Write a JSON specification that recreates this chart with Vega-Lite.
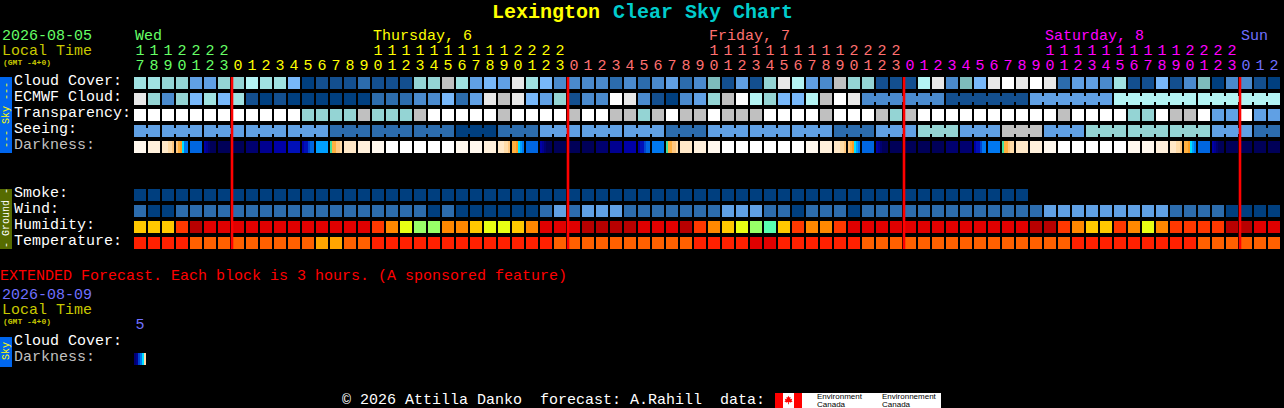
{"$schema":"https://vega.github.io/schema/vega-lite/v6.json","width":1284,"height":408,"autosize":"none","padding":0,"background":"#000000","config":{"view":{"stroke":null},"text":{"font":"Liberation Mono","fontSize":15,"baseline":"middle","align":"left"}},
"datasets":{"cells":[
{"row":"cloud","col":0,"lvl":"s6"},{"row":"cloud","col":1,"lvl":"s6"},{"row":"cloud","col":2,"lvl":"s8"},{"row":"cloud","col":3,"lvl":"s8"},{"row":"cloud","col":4,"lvl":"s4"},{"row":"cloud","col":5,"lvl":"s4"},{"row":"cloud","col":6,"lvl":"s8"},{"row":"cloud","col":7,"lvl":"s8"},{"row":"cloud","col":8,"lvl":"s7"},{"row":"cloud","col":9,"lvl":"s6"},{"row":"cloud","col":10,"lvl":"s6"},{"row":"cloud","col":11,"lvl":"s5"},{"row":"cloud","col":12,"lvl":"s0"},{"row":"cloud","col":13,"lvl":"s1"},{"row":"cloud","col":14,"lvl":"s1"},{"row":"cloud","col":15,"lvl":"s1"},{"row":"cloud","col":16,"lvl":"s2"},{"row":"cloud","col":17,"lvl":"s1"},{"row":"cloud","col":18,"lvl":"s1"},{"row":"cloud","col":19,"lvl":"s1"},{"row":"cloud","col":20,"lvl":"s8"},{"row":"cloud","col":21,"lvl":"s8"},{"row":"cloud","col":22,"lvl":"s10"},{"row":"cloud","col":23,"lvl":"s6"},{"row":"cloud","col":24,"lvl":"s4"},{"row":"cloud","col":25,"lvl":"s5"},{"row":"cloud","col":26,"lvl":"s4"},{"row":"cloud","col":27,"lvl":"s11"},{"row":"cloud","col":28,"lvl":"s6"},{"row":"cloud","col":29,"lvl":"s5"},{"row":"cloud","col":30,"lvl":"s3"},{"row":"cloud","col":31,"lvl":"s3"},{"row":"cloud","col":32,"lvl":"s3"},{"row":"cloud","col":33,"lvl":"s3"},{"row":"cloud","col":34,"lvl":"s2"},{"row":"cloud","col":35,"lvl":"s3"},{"row":"cloud","col":36,"lvl":"s2"},{"row":"cloud","col":37,"lvl":"s3"},{"row":"cloud","col":38,"lvl":"s4"},{"row":"cloud","col":39,"lvl":"s2"},{"row":"cloud","col":40,"lvl":"s3"},{"row":"cloud","col":41,"lvl":"s9"},{"row":"cloud","col":42,"lvl":"s1"},{"row":"cloud","col":43,"lvl":"s4"},{"row":"cloud","col":44,"lvl":"s1"},{"row":"cloud","col":45,"lvl":"s8"},{"row":"cloud","col":46,"lvl":"s11"},{"row":"cloud","col":47,"lvl":"s7"},{"row":"cloud","col":48,"lvl":"s4"},{"row":"cloud","col":49,"lvl":"s3"},{"row":"cloud","col":50,"lvl":"s10"},{"row":"cloud","col":51,"lvl":"s8"},{"row":"cloud","col":52,"lvl":"s8"},{"row":"cloud","col":53,"lvl":"s1"},{"row":"cloud","col":54,"lvl":"s1"},{"row":"cloud","col":55,"lvl":"s1"},{"row":"cloud","col":56,"lvl":"s7"},{"row":"cloud","col":57,"lvl":"s11"},{"row":"cloud","col":58,"lvl":"s3"},{"row":"cloud","col":59,"lvl":"s9"},{"row":"cloud","col":60,"lvl":"s5"},{"row":"cloud","col":61,"lvl":"s11"},{"row":"cloud","col":62,"lvl":"s12"},{"row":"cloud","col":63,"lvl":"s11"},{"row":"cloud","col":64,"lvl":"s12"},{"row":"cloud","col":65,"lvl":"s11"},{"row":"cloud","col":66,"lvl":"s2"},{"row":"cloud","col":67,"lvl":"s4"},{"row":"cloud","col":68,"lvl":"s4"},{"row":"cloud","col":69,"lvl":"s3"},{"row":"cloud","col":70,"lvl":"s6"},{"row":"cloud","col":71,"lvl":"s1"},{"row":"cloud","col":72,"lvl":"s1"},{"row":"cloud","col":73,"lvl":"s5"},{"row":"cloud","col":74,"lvl":"s1"},{"row":"cloud","col":75,"lvl":"s3"},{"row":"cloud","col":76,"lvl":"s9"},{"row":"cloud","col":77,"lvl":"s0"},{"row":"cloud","col":78,"lvl":"s3"},{"row":"cloud","col":79,"lvl":"s3"},{"row":"cloud","col":80,"lvl":"s1"},{"row":"cloud","col":81,"lvl":"s0"},
{"row":"ecmwf","col":0,"lvl":"s11"},{"row":"ecmwf","col":1,"lvl":"s8"},{"row":"ecmwf","col":2,"lvl":"s3"},{"row":"ecmwf","col":3,"lvl":"s8"},{"row":"ecmwf","col":4,"lvl":"s5"},{"row":"ecmwf","col":5,"lvl":"s6"},{"row":"ecmwf","col":6,"lvl":"s5"},{"row":"ecmwf","col":7,"lvl":"s6"},{"row":"ecmwf","col":8,"lvl":"s1"},{"row":"ecmwf","col":9,"lvl":"s0"},{"row":"ecmwf","col":10,"lvl":"s1"},{"row":"ecmwf","col":11,"lvl":"s0"},{"row":"ecmwf","col":12,"lvl":"s0"},{"row":"ecmwf","col":13,"lvl":"s0"},{"row":"ecmwf","col":14,"lvl":"s0"},{"row":"ecmwf","col":15,"lvl":"s0"},{"row":"ecmwf","col":16,"lvl":"s0"},{"row":"ecmwf","col":17,"lvl":"s2"},{"row":"ecmwf","col":18,"lvl":"s2"},{"row":"ecmwf","col":19,"lvl":"s2"},{"row":"ecmwf","col":20,"lvl":"s3"},{"row":"ecmwf","col":21,"lvl":"s3"},{"row":"ecmwf","col":22,"lvl":"s5"},{"row":"ecmwf","col":23,"lvl":"s2"},{"row":"ecmwf","col":24,"lvl":"s4"},{"row":"ecmwf","col":25,"lvl":"s11"},{"row":"ecmwf","col":26,"lvl":"s10"},{"row":"ecmwf","col":27,"lvl":"s11"},{"row":"ecmwf","col":28,"lvl":"s5"},{"row":"ecmwf","col":29,"lvl":"s4"},{"row":"ecmwf","col":30,"lvl":"s8"},{"row":"ecmwf","col":31,"lvl":"s1"},{"row":"ecmwf","col":32,"lvl":"s3"},{"row":"ecmwf","col":33,"lvl":"s3"},{"row":"ecmwf","col":34,"lvl":"s12"},{"row":"ecmwf","col":35,"lvl":"s11"},{"row":"ecmwf","col":36,"lvl":"s3"},{"row":"ecmwf","col":37,"lvl":"s1"},{"row":"ecmwf","col":38,"lvl":"s0"},{"row":"ecmwf","col":39,"lvl":"s3"},{"row":"ecmwf","col":40,"lvl":"s4"},{"row":"ecmwf","col":41,"lvl":"s8"},{"row":"ecmwf","col":42,"lvl":"s10"},{"row":"ecmwf","col":43,"lvl":"s12"},{"row":"ecmwf","col":44,"lvl":"s7"},{"row":"ecmwf","col":45,"lvl":"s8"},{"row":"ecmwf","col":46,"lvl":"s5"},{"row":"ecmwf","col":47,"lvl":"s5"},{"row":"ecmwf","col":48,"lvl":"s7"},{"row":"ecmwf","col":49,"lvl":"s10"},{"row":"ecmwf","col":50,"lvl":"s12"},{"row":"ecmwf","col":51,"lvl":"s11"},{"row":"ecmwf","col":52,"lvl":"s3","link":1},{"row":"ecmwf","col":53,"lvl":"s3","link":1},{"row":"ecmwf","col":54,"lvl":"s3","link":1},{"row":"ecmwf","col":55,"lvl":"s3","link":1},{"row":"ecmwf","col":56,"lvl":"s3","link":1},{"row":"ecmwf","col":57,"lvl":"s3"},{"row":"ecmwf","col":58,"lvl":"s1","link":1},{"row":"ecmwf","col":59,"lvl":"s1","link":1},{"row":"ecmwf","col":60,"lvl":"s1","link":1},{"row":"ecmwf","col":61,"lvl":"s1","link":1},{"row":"ecmwf","col":62,"lvl":"s1","link":1},{"row":"ecmwf","col":63,"lvl":"s1"},{"row":"ecmwf","col":64,"lvl":"s4","link":1},{"row":"ecmwf","col":65,"lvl":"s4","link":1},{"row":"ecmwf","col":66,"lvl":"s4","link":1},{"row":"ecmwf","col":67,"lvl":"s4","link":1},{"row":"ecmwf","col":68,"lvl":"s4","link":1},{"row":"ecmwf","col":69,"lvl":"s4"},{"row":"ecmwf","col":70,"lvl":"s7","link":1},{"row":"ecmwf","col":71,"lvl":"s7","link":1},{"row":"ecmwf","col":72,"lvl":"s7","link":1},{"row":"ecmwf","col":73,"lvl":"s7","link":1},{"row":"ecmwf","col":74,"lvl":"s7","link":1},{"row":"ecmwf","col":75,"lvl":"s7"},{"row":"ecmwf","col":76,"lvl":"s7","link":1},{"row":"ecmwf","col":77,"lvl":"s7","link":1},{"row":"ecmwf","col":78,"lvl":"s7","link":1},{"row":"ecmwf","col":79,"lvl":"s7","link":1},{"row":"ecmwf","col":80,"lvl":"s7","link":1},{"row":"ecmwf","col":81,"lvl":"s7"},
{"row":"transp","col":0,"lvl":"s12"},{"row":"transp","col":1,"lvl":"s12"},{"row":"transp","col":2,"lvl":"s12"},{"row":"transp","col":3,"lvl":"s12"},{"row":"transp","col":4,"lvl":"s12"},{"row":"transp","col":5,"lvl":"s12"},{"row":"transp","col":6,"lvl":"s12"},{"row":"transp","col":7,"lvl":"s12"},{"row":"transp","col":8,"lvl":"s12"},{"row":"transp","col":9,"lvl":"s12"},{"row":"transp","col":10,"lvl":"s12"},{"row":"transp","col":11,"lvl":"s12"},{"row":"transp","col":12,"lvl":"s8"},{"row":"transp","col":13,"lvl":"s8"},{"row":"transp","col":14,"lvl":"s8"},{"row":"transp","col":15,"lvl":"s8"},{"row":"transp","col":16,"lvl":"s10"},{"row":"transp","col":17,"lvl":"s8"},{"row":"transp","col":18,"lvl":"s8"},{"row":"transp","col":19,"lvl":"s8"},{"row":"transp","col":20,"lvl":"s10"},{"row":"transp","col":21,"lvl":"s12"},{"row":"transp","col":22,"lvl":"s12"},{"row":"transp","col":23,"lvl":"s12"},{"row":"transp","col":24,"lvl":"s12"},{"row":"transp","col":25,"lvl":"s12"},{"row":"transp","col":26,"lvl":"s10"},{"row":"transp","col":27,"lvl":"s12"},{"row":"transp","col":28,"lvl":"s12"},{"row":"transp","col":29,"lvl":"s12"},{"row":"transp","col":30,"lvl":"s12"},{"row":"transp","col":31,"lvl":"s10"},{"row":"transp","col":32,"lvl":"s12"},{"row":"transp","col":33,"lvl":"s12"},{"row":"transp","col":34,"lvl":"s10"},{"row":"transp","col":35,"lvl":"s10"},{"row":"transp","col":36,"lvl":"s8"},{"row":"transp","col":37,"lvl":"s10"},{"row":"transp","col":38,"lvl":"s12"},{"row":"transp","col":39,"lvl":"s10"},{"row":"transp","col":40,"lvl":"s10"},{"row":"transp","col":41,"lvl":"s12"},{"row":"transp","col":42,"lvl":"s10"},{"row":"transp","col":43,"lvl":"s10"},{"row":"transp","col":44,"lvl":"s10"},{"row":"transp","col":45,"lvl":"s12"},{"row":"transp","col":46,"lvl":"s12"},{"row":"transp","col":47,"lvl":"s12"},{"row":"transp","col":48,"lvl":"s12"},{"row":"transp","col":49,"lvl":"s10"},{"row":"transp","col":50,"lvl":"s12"},{"row":"transp","col":51,"lvl":"s12"},{"row":"transp","col":52,"lvl":"s12"},{"row":"transp","col":53,"lvl":"s10"},{"row":"transp","col":54,"lvl":"s8"},{"row":"transp","col":55,"lvl":"s10"},{"row":"transp","col":56,"lvl":"s12"},{"row":"transp","col":57,"lvl":"s12"},{"row":"transp","col":58,"lvl":"s12"},{"row":"transp","col":59,"lvl":"s12"},{"row":"transp","col":60,"lvl":"s12"},{"row":"transp","col":61,"lvl":"s12"},{"row":"transp","col":62,"lvl":"s12"},{"row":"transp","col":63,"lvl":"s12"},{"row":"transp","col":64,"lvl":"s12"},{"row":"transp","col":65,"lvl":"s12"},{"row":"transp","col":66,"lvl":"s10"},{"row":"transp","col":67,"lvl":"s12"},{"row":"transp","col":68,"lvl":"s12"},{"row":"transp","col":69,"lvl":"s12"},{"row":"transp","col":70,"lvl":"s12"},{"row":"transp","col":71,"lvl":"s8"},{"row":"transp","col":72,"lvl":"s8"},{"row":"transp","col":73,"lvl":"s12"},{"row":"transp","col":74,"lvl":"s10"},{"row":"transp","col":75,"lvl":"s10"},{"row":"transp","col":76,"lvl":"s12"},{"row":"transp","col":77,"lvl":"s4"},{"row":"transp","col":78,"lvl":"s4"},{"row":"transp","col":79,"lvl":"s12"},{"row":"transp","col":80,"lvl":"s4"},{"row":"transp","col":81,"lvl":"s4"},
{"row":"seeing","col":0,"lvl":"s4","link":1},{"row":"seeing","col":1,"lvl":"s4"},{"row":"seeing","col":2,"lvl":"s4","link":1},{"row":"seeing","col":3,"lvl":"s4","link":1},{"row":"seeing","col":4,"lvl":"s4"},{"row":"seeing","col":5,"lvl":"s4","link":1},{"row":"seeing","col":6,"lvl":"s4","link":1},{"row":"seeing","col":7,"lvl":"s4"},{"row":"seeing","col":8,"lvl":"s4","link":1},{"row":"seeing","col":9,"lvl":"s4","link":1},{"row":"seeing","col":10,"lvl":"s4"},{"row":"seeing","col":11,"lvl":"s4","link":1},{"row":"seeing","col":12,"lvl":"s4","link":1},{"row":"seeing","col":13,"lvl":"s4"},{"row":"seeing","col":14,"lvl":"s2","link":1},{"row":"seeing","col":15,"lvl":"s2","link":1},{"row":"seeing","col":16,"lvl":"s2"},{"row":"seeing","col":17,"lvl":"s2","link":1},{"row":"seeing","col":18,"lvl":"s2","link":1},{"row":"seeing","col":19,"lvl":"s2"},{"row":"seeing","col":20,"lvl":"s2","link":1},{"row":"seeing","col":21,"lvl":"s2","link":1},{"row":"seeing","col":22,"lvl":"s2"},{"row":"seeing","col":23,"lvl":"s0","link":1},{"row":"seeing","col":24,"lvl":"s0","link":1},{"row":"seeing","col":25,"lvl":"s0"},{"row":"seeing","col":26,"lvl":"s2","link":1},{"row":"seeing","col":27,"lvl":"s2","link":1},{"row":"seeing","col":28,"lvl":"s2"},{"row":"seeing","col":29,"lvl":"s4","link":1},{"row":"seeing","col":30,"lvl":"s4","link":1},{"row":"seeing","col":31,"lvl":"s4"},{"row":"seeing","col":32,"lvl":"s4","link":1},{"row":"seeing","col":33,"lvl":"s4","link":1},{"row":"seeing","col":34,"lvl":"s4"},{"row":"seeing","col":35,"lvl":"s4","link":1},{"row":"seeing","col":36,"lvl":"s4","link":1},{"row":"seeing","col":37,"lvl":"s4"},{"row":"seeing","col":38,"lvl":"s2","link":1},{"row":"seeing","col":39,"lvl":"s2","link":1},{"row":"seeing","col":40,"lvl":"s2"},{"row":"seeing","col":41,"lvl":"s4","link":1},{"row":"seeing","col":42,"lvl":"s4","link":1},{"row":"seeing","col":43,"lvl":"s4"},{"row":"seeing","col":44,"lvl":"s4","link":1},{"row":"seeing","col":45,"lvl":"s4","link":1},{"row":"seeing","col":46,"lvl":"s4"},{"row":"seeing","col":47,"lvl":"s4","link":1},{"row":"seeing","col":48,"lvl":"s4","link":1},{"row":"seeing","col":49,"lvl":"s4"},{"row":"seeing","col":50,"lvl":"s2","link":1},{"row":"seeing","col":51,"lvl":"s2","link":1},{"row":"seeing","col":52,"lvl":"s2"},{"row":"seeing","col":53,"lvl":"s4","link":1},{"row":"seeing","col":54,"lvl":"s4","link":1},{"row":"seeing","col":55,"lvl":"s4"},{"row":"seeing","col":56,"lvl":"s8","link":1},{"row":"seeing","col":57,"lvl":"s8","link":1},{"row":"seeing","col":58,"lvl":"s8"},{"row":"seeing","col":59,"lvl":"s4","link":1},{"row":"seeing","col":60,"lvl":"s4","link":1},{"row":"seeing","col":61,"lvl":"s4"},{"row":"seeing","col":62,"lvl":"s10","link":1},{"row":"seeing","col":63,"lvl":"s10","link":1},{"row":"seeing","col":64,"lvl":"s10"},{"row":"seeing","col":65,"lvl":"s4","link":1},{"row":"seeing","col":66,"lvl":"s4","link":1},{"row":"seeing","col":67,"lvl":"s4"},{"row":"seeing","col":68,"lvl":"s8","link":1},{"row":"seeing","col":69,"lvl":"s8","link":1},{"row":"seeing","col":70,"lvl":"s8"},{"row":"seeing","col":71,"lvl":"s8","link":1},{"row":"seeing","col":72,"lvl":"s8","link":1},{"row":"seeing","col":73,"lvl":"s8"},{"row":"seeing","col":74,"lvl":"s8","link":1},{"row":"seeing","col":75,"lvl":"s8","link":1},{"row":"seeing","col":76,"lvl":"s8"},{"row":"seeing","col":77,"lvl":"s4","link":1},{"row":"seeing","col":78,"lvl":"s4","link":1},{"row":"seeing","col":79,"lvl":"s4"},{"row":"seeing","col":80,"lvl":"s2","link":1},{"row":"seeing","col":81,"lvl":"s2"},
{"row":"dark","col":0,"lvl":"c1"},{"row":"dark","col":1,"lvl":"c2"},{"row":"dark","col":4,"lvl":"b3"},{"row":"dark","col":6,"lvl":"b9"},{"row":"dark","col":7,"lvl":"b9"},{"row":"dark","col":8,"lvl":"b8"},{"row":"dark","col":9,"lvl":"b7"},{"row":"dark","col":10,"lvl":"b6"},{"row":"dark","col":11,"lvl":"b5"},{"row":"dark","col":13,"lvl":"b1"},{"row":"dark","col":15,"lvl":"c3"},{"row":"dark","col":16,"lvl":"c2"},{"row":"dark","col":17,"lvl":"c1"},{"row":"dark","col":18,"lvl":"w"},{"row":"dark","col":19,"lvl":"w"},{"row":"dark","col":20,"lvl":"w"},{"row":"dark","col":21,"lvl":"w"},{"row":"dark","col":22,"lvl":"w"},{"row":"dark","col":23,"lvl":"c1"},{"row":"dark","col":24,"lvl":"c1"},{"row":"dark","col":25,"lvl":"c2"},{"row":"dark","col":28,"lvl":"b3"},{"row":"dark","col":30,"lvl":"b9"},{"row":"dark","col":31,"lvl":"b9"},{"row":"dark","col":32,"lvl":"b9"},{"row":"dark","col":33,"lvl":"b8"},{"row":"dark","col":34,"lvl":"b7"},{"row":"dark","col":35,"lvl":"b6"},{"row":"dark","col":37,"lvl":"b2"},{"row":"dark","col":39,"lvl":"c3"},{"row":"dark","col":40,"lvl":"c2"},{"row":"dark","col":41,"lvl":"c1"},{"row":"dark","col":42,"lvl":"w"},{"row":"dark","col":43,"lvl":"w"},{"row":"dark","col":44,"lvl":"w"},{"row":"dark","col":45,"lvl":"w"},{"row":"dark","col":46,"lvl":"w"},{"row":"dark","col":47,"lvl":"w"},{"row":"dark","col":48,"lvl":"c1"},{"row":"dark","col":49,"lvl":"c2"},{"row":"dark","col":52,"lvl":"b3"},{"row":"dark","col":54,"lvl":"b9"},{"row":"dark","col":55,"lvl":"b9"},{"row":"dark","col":56,"lvl":"b9"},{"row":"dark","col":57,"lvl":"b9"},{"row":"dark","col":58,"lvl":"b8"},{"row":"dark","col":59,"lvl":"b8"},{"row":"dark","col":61,"lvl":"b2"},{"row":"dark","col":63,"lvl":"c3"},{"row":"dark","col":64,"lvl":"c2"},{"row":"dark","col":65,"lvl":"c1"},{"row":"dark","col":66,"lvl":"w"},{"row":"dark","col":67,"lvl":"w"},{"row":"dark","col":68,"lvl":"w"},{"row":"dark","col":69,"lvl":"w"},{"row":"dark","col":70,"lvl":"w"},{"row":"dark","col":71,"lvl":"c1"},{"row":"dark","col":72,"lvl":"c1"},{"row":"dark","col":73,"lvl":"c2"},{"row":"dark","col":76,"lvl":"b3"},{"row":"dark","col":78,"lvl":"b9"},{"row":"dark","col":79,"lvl":"b9"},{"row":"dark","col":80,"lvl":"b9"},{"row":"dark","col":81,"lvl":"b9"},
{"row":"smoke","col":0,"lvl":"s0"},{"row":"smoke","col":1,"lvl":"s0"},{"row":"smoke","col":2,"lvl":"s0"},{"row":"smoke","col":3,"lvl":"s0"},{"row":"smoke","col":4,"lvl":"s0"},{"row":"smoke","col":5,"lvl":"s0"},{"row":"smoke","col":6,"lvl":"s0"},{"row":"smoke","col":7,"lvl":"s0"},{"row":"smoke","col":8,"lvl":"s0"},{"row":"smoke","col":9,"lvl":"s0"},{"row":"smoke","col":10,"lvl":"s0"},{"row":"smoke","col":11,"lvl":"s0"},{"row":"smoke","col":12,"lvl":"s0"},{"row":"smoke","col":13,"lvl":"s0"},{"row":"smoke","col":14,"lvl":"s0"},{"row":"smoke","col":15,"lvl":"s0"},{"row":"smoke","col":16,"lvl":"s0"},{"row":"smoke","col":17,"lvl":"s0"},{"row":"smoke","col":18,"lvl":"s0"},{"row":"smoke","col":19,"lvl":"s0"},{"row":"smoke","col":20,"lvl":"s0"},{"row":"smoke","col":21,"lvl":"s0"},{"row":"smoke","col":22,"lvl":"s0"},{"row":"smoke","col":23,"lvl":"s0"},{"row":"smoke","col":24,"lvl":"s0"},{"row":"smoke","col":25,"lvl":"s0"},{"row":"smoke","col":26,"lvl":"s0"},{"row":"smoke","col":27,"lvl":"s0"},{"row":"smoke","col":28,"lvl":"s0"},{"row":"smoke","col":29,"lvl":"s0"},{"row":"smoke","col":30,"lvl":"s0"},{"row":"smoke","col":31,"lvl":"s0"},{"row":"smoke","col":32,"lvl":"s0"},{"row":"smoke","col":33,"lvl":"s0"},{"row":"smoke","col":34,"lvl":"s0"},{"row":"smoke","col":35,"lvl":"s0"},{"row":"smoke","col":36,"lvl":"s0"},{"row":"smoke","col":37,"lvl":"s0"},{"row":"smoke","col":38,"lvl":"s0"},{"row":"smoke","col":39,"lvl":"s0"},{"row":"smoke","col":40,"lvl":"s0"},{"row":"smoke","col":41,"lvl":"s0"},{"row":"smoke","col":42,"lvl":"s0"},{"row":"smoke","col":43,"lvl":"s0"},{"row":"smoke","col":44,"lvl":"s0"},{"row":"smoke","col":45,"lvl":"s0"},{"row":"smoke","col":46,"lvl":"s0"},{"row":"smoke","col":47,"lvl":"s0"},{"row":"smoke","col":48,"lvl":"s0"},{"row":"smoke","col":49,"lvl":"s0"},{"row":"smoke","col":50,"lvl":"s0"},{"row":"smoke","col":51,"lvl":"s0"},{"row":"smoke","col":52,"lvl":"s0"},{"row":"smoke","col":53,"lvl":"s0"},{"row":"smoke","col":54,"lvl":"s0"},{"row":"smoke","col":55,"lvl":"s0"},{"row":"smoke","col":56,"lvl":"s0"},{"row":"smoke","col":57,"lvl":"s0"},{"row":"smoke","col":58,"lvl":"s0"},{"row":"smoke","col":59,"lvl":"s0"},{"row":"smoke","col":60,"lvl":"s0"},{"row":"smoke","col":61,"lvl":"s0"},{"row":"smoke","col":62,"lvl":"s0"},{"row":"smoke","col":63,"lvl":"s0"},
{"row":"wind","col":0,"lvl":"s2"},{"row":"wind","col":1,"lvl":"s0"},{"row":"wind","col":2,"lvl":"s0"},{"row":"wind","col":3,"lvl":"s2"},{"row":"wind","col":4,"lvl":"s2"},{"row":"wind","col":5,"lvl":"s2"},{"row":"wind","col":6,"lvl":"s2"},{"row":"wind","col":7,"lvl":"s2"},{"row":"wind","col":8,"lvl":"s2"},{"row":"wind","col":9,"lvl":"s2"},{"row":"wind","col":10,"lvl":"s2"},{"row":"wind","col":11,"lvl":"s2"},{"row":"wind","col":12,"lvl":"s2"},{"row":"wind","col":13,"lvl":"s2"},{"row":"wind","col":14,"lvl":"s2"},{"row":"wind","col":15,"lvl":"s2"},{"row":"wind","col":16,"lvl":"s2"},{"row":"wind","col":17,"lvl":"s2"},{"row":"wind","col":18,"lvl":"s2"},{"row":"wind","col":19,"lvl":"s2"},{"row":"wind","col":20,"lvl":"s2"},{"row":"wind","col":21,"lvl":"s0"},{"row":"wind","col":22,"lvl":"s2"},{"row":"wind","col":23,"lvl":"s0"},{"row":"wind","col":24,"lvl":"s0"},{"row":"wind","col":25,"lvl":"s0"},{"row":"wind","col":26,"lvl":"s0"},{"row":"wind","col":27,"lvl":"s0"},{"row":"wind","col":28,"lvl":"s0"},{"row":"wind","col":29,"lvl":"s2"},{"row":"wind","col":30,"lvl":"s4"},{"row":"wind","col":31,"lvl":"s2"},{"row":"wind","col":32,"lvl":"s4"},{"row":"wind","col":33,"lvl":"s4"},{"row":"wind","col":34,"lvl":"s4"},{"row":"wind","col":35,"lvl":"s2"},{"row":"wind","col":36,"lvl":"s2"},{"row":"wind","col":37,"lvl":"s2"},{"row":"wind","col":38,"lvl":"s2"},{"row":"wind","col":39,"lvl":"s2"},{"row":"wind","col":40,"lvl":"s2"},{"row":"wind","col":41,"lvl":"s2"},{"row":"wind","col":42,"lvl":"s4"},{"row":"wind","col":43,"lvl":"s4"},{"row":"wind","col":44,"lvl":"s4"},{"row":"wind","col":45,"lvl":"s2"},{"row":"wind","col":46,"lvl":"s2"},{"row":"wind","col":47,"lvl":"s0"},{"row":"wind","col":48,"lvl":"s2"},{"row":"wind","col":49,"lvl":"s2"},{"row":"wind","col":50,"lvl":"s2"},{"row":"wind","col":51,"lvl":"s0"},{"row":"wind","col":52,"lvl":"s2"},{"row":"wind","col":53,"lvl":"s2"},{"row":"wind","col":54,"lvl":"s2"},{"row":"wind","col":55,"lvl":"s2"},{"row":"wind","col":56,"lvl":"s2"},{"row":"wind","col":57,"lvl":"s2"},{"row":"wind","col":58,"lvl":"s2"},{"row":"wind","col":59,"lvl":"s2"},{"row":"wind","col":60,"lvl":"s2"},{"row":"wind","col":61,"lvl":"s2"},{"row":"wind","col":62,"lvl":"s2"},{"row":"wind","col":63,"lvl":"s2"},{"row":"wind","col":64,"lvl":"s2"},{"row":"wind","col":65,"lvl":"s4"},{"row":"wind","col":66,"lvl":"s4"},{"row":"wind","col":67,"lvl":"s4"},{"row":"wind","col":68,"lvl":"s4"},{"row":"wind","col":69,"lvl":"s4"},{"row":"wind","col":70,"lvl":"s4"},{"row":"wind","col":71,"lvl":"s4"},{"row":"wind","col":72,"lvl":"s4"},{"row":"wind","col":73,"lvl":"s4"},{"row":"wind","col":74,"lvl":"s2"},{"row":"wind","col":75,"lvl":"s2"},{"row":"wind","col":76,"lvl":"s2"},{"row":"wind","col":77,"lvl":"s2"},{"row":"wind","col":78,"lvl":"s0"},{"row":"wind","col":79,"lvl":"s0"},{"row":"wind","col":80,"lvl":"s0"},{"row":"wind","col":81,"lvl":"s0"},
{"row":"humid","col":0,"lvl":"ha"},{"row":"humid","col":1,"lvl":"ha"},{"row":"humid","col":2,"lvl":"ha"},{"row":"humid","col":3,"lvl":"ho"},{"row":"humid","col":4,"lvl":"hd"},{"row":"humid","col":5,"lvl":"hr"},{"row":"humid","col":6,"lvl":"hr"},{"row":"humid","col":7,"lvl":"hr"},{"row":"humid","col":8,"lvl":"hr"},{"row":"humid","col":9,"lvl":"hr"},{"row":"humid","col":10,"lvl":"hr"},{"row":"humid","col":11,"lvl":"hr"},{"row":"humid","col":12,"lvl":"hr"},{"row":"humid","col":13,"lvl":"hr"},{"row":"humid","col":14,"lvl":"hr"},{"row":"humid","col":15,"lvl":"hr"},{"row":"humid","col":16,"lvl":"hr"},{"row":"humid","col":17,"lvl":"ho"},{"row":"humid","col":18,"lvl":"hn"},{"row":"humid","col":19,"lvl":"hy"},{"row":"humid","col":20,"lvl":"hg"},{"row":"humid","col":21,"lvl":"hg"},{"row":"humid","col":22,"lvl":"hn"},{"row":"humid","col":23,"lvl":"hn"},{"row":"humid","col":24,"lvl":"ha"},{"row":"humid","col":25,"lvl":"hy"},{"row":"humid","col":26,"lvl":"hy"},{"row":"humid","col":27,"lvl":"ha"},{"row":"humid","col":28,"lvl":"hn"},{"row":"humid","col":29,"lvl":"hr"},{"row":"humid","col":30,"lvl":"hr"},{"row":"humid","col":31,"lvl":"hr"},{"row":"humid","col":32,"lvl":"hd"},{"row":"humid","col":33,"lvl":"hd"},{"row":"humid","col":34,"lvl":"hd"},{"row":"humid","col":35,"lvl":"hd"},{"row":"humid","col":36,"lvl":"hr"},{"row":"humid","col":37,"lvl":"hr"},{"row":"humid","col":38,"lvl":"hr"},{"row":"humid","col":39,"lvl":"hd"},{"row":"humid","col":40,"lvl":"ho"},{"row":"humid","col":41,"lvl":"hn"},{"row":"humid","col":42,"lvl":"ha"},{"row":"humid","col":43,"lvl":"hy"},{"row":"humid","col":44,"lvl":"hg"},{"row":"humid","col":45,"lvl":"hm"},{"row":"humid","col":46,"lvl":"ha"},{"row":"humid","col":47,"lvl":"ho"},{"row":"humid","col":48,"lvl":"hn"},{"row":"humid","col":49,"lvl":"hn"},{"row":"humid","col":50,"lvl":"ho"},{"row":"humid","col":51,"lvl":"hr"},{"row":"humid","col":52,"lvl":"hr"},{"row":"humid","col":53,"lvl":"hr"},{"row":"humid","col":54,"lvl":"hr"},{"row":"humid","col":55,"lvl":"hr"},{"row":"humid","col":56,"lvl":"hr"},{"row":"humid","col":57,"lvl":"hr"},{"row":"humid","col":58,"lvl":"hr"},{"row":"humid","col":59,"lvl":"hr"},{"row":"humid","col":60,"lvl":"hr"},{"row":"humid","col":61,"lvl":"hr"},{"row":"humid","col":62,"lvl":"hr"},{"row":"humid","col":63,"lvl":"hr"},{"row":"humid","col":64,"lvl":"hd"},{"row":"humid","col":65,"lvl":"hd"},{"row":"humid","col":66,"lvl":"ho"},{"row":"humid","col":67,"lvl":"hn"},{"row":"humid","col":68,"lvl":"ha"},{"row":"humid","col":69,"lvl":"ha"},{"row":"humid","col":70,"lvl":"ho"},{"row":"humid","col":71,"lvl":"hn"},{"row":"humid","col":72,"lvl":"hy"},{"row":"humid","col":73,"lvl":"hn"},{"row":"humid","col":74,"lvl":"ho"},{"row":"humid","col":75,"lvl":"ho"},{"row":"humid","col":76,"lvl":"ho"},{"row":"humid","col":77,"lvl":"ho"},{"row":"humid","col":78,"lvl":"hd"},{"row":"humid","col":79,"lvl":"hd"},{"row":"humid","col":80,"lvl":"hr"},{"row":"humid","col":81,"lvl":"hr"},
{"row":"temp","col":0,"lvl":"tr"},{"row":"temp","col":1,"lvl":"tr"},{"row":"temp","col":2,"lvl":"tr"},{"row":"temp","col":3,"lvl":"tr"},{"row":"temp","col":4,"lvl":"to"},{"row":"temp","col":5,"lvl":"to"},{"row":"temp","col":6,"lvl":"to"},{"row":"temp","col":7,"lvl":"to"},{"row":"temp","col":8,"lvl":"to"},{"row":"temp","col":9,"lvl":"to"},{"row":"temp","col":10,"lvl":"to"},{"row":"temp","col":11,"lvl":"to"},{"row":"temp","col":12,"lvl":"to"},{"row":"temp","col":13,"lvl":"ta"},{"row":"temp","col":14,"lvl":"ta"},{"row":"temp","col":15,"lvl":"to"},{"row":"temp","col":16,"lvl":"to"},{"row":"temp","col":17,"lvl":"tr"},{"row":"temp","col":18,"lvl":"tr"},{"row":"temp","col":19,"lvl":"tr"},{"row":"temp","col":20,"lvl":"tr"},{"row":"temp","col":21,"lvl":"tr"},{"row":"temp","col":22,"lvl":"tr"},{"row":"temp","col":23,"lvl":"tr"},{"row":"temp","col":24,"lvl":"tr"},{"row":"temp","col":25,"lvl":"tr"},{"row":"temp","col":26,"lvl":"tr"},{"row":"temp","col":27,"lvl":"tr"},{"row":"temp","col":28,"lvl":"tr"},{"row":"temp","col":29,"lvl":"tr"},{"row":"temp","col":30,"lvl":"to"},{"row":"temp","col":31,"lvl":"to"},{"row":"temp","col":32,"lvl":"to"},{"row":"temp","col":33,"lvl":"to"},{"row":"temp","col":34,"lvl":"to"},{"row":"temp","col":35,"lvl":"to"},{"row":"temp","col":36,"lvl":"to"},{"row":"temp","col":37,"lvl":"to"},{"row":"temp","col":38,"lvl":"to"},{"row":"temp","col":39,"lvl":"to"},{"row":"temp","col":40,"lvl":"tr"},{"row":"temp","col":41,"lvl":"tr"},{"row":"temp","col":42,"lvl":"tr"},{"row":"temp","col":43,"lvl":"tr"},{"row":"temp","col":44,"lvl":"td"},{"row":"temp","col":45,"lvl":"td"},{"row":"temp","col":46,"lvl":"tr"},{"row":"temp","col":47,"lvl":"tr"},{"row":"temp","col":48,"lvl":"tr"},{"row":"temp","col":49,"lvl":"tr"},{"row":"temp","col":50,"lvl":"tr"},{"row":"temp","col":51,"lvl":"tr"},{"row":"temp","col":52,"lvl":"to"},{"row":"temp","col":53,"lvl":"to"},{"row":"temp","col":54,"lvl":"to"},{"row":"temp","col":55,"lvl":"to"},{"row":"temp","col":56,"lvl":"to"},{"row":"temp","col":57,"lvl":"to"},{"row":"temp","col":58,"lvl":"to"},{"row":"temp","col":59,"lvl":"to"},{"row":"temp","col":60,"lvl":"to"},{"row":"temp","col":61,"lvl":"to"},{"row":"temp","col":62,"lvl":"to"},{"row":"temp","col":63,"lvl":"to"},{"row":"temp","col":64,"lvl":"to"},{"row":"temp","col":65,"lvl":"to"},{"row":"temp","col":66,"lvl":"to"},{"row":"temp","col":67,"lvl":"tr"},{"row":"temp","col":68,"lvl":"tr"},{"row":"temp","col":69,"lvl":"tr"},{"row":"temp","col":70,"lvl":"tr"},{"row":"temp","col":71,"lvl":"tr"},{"row":"temp","col":72,"lvl":"tr"},{"row":"temp","col":73,"lvl":"tr"},{"row":"temp","col":74,"lvl":"tr"},{"row":"temp","col":75,"lvl":"tr"},{"row":"temp","col":76,"lvl":"to"},{"row":"temp","col":77,"lvl":"to"},{"row":"temp","col":78,"lvl":"to"},{"row":"temp","col":79,"lvl":"to"},{"row":"temp","col":80,"lvl":"to"},{"row":"temp","col":81,"lvl":"to"}
],
"strips":[
{"col":2,"sub":0,"lvl":"c3"},{"col":2,"sub":1,"lvl":"c3"},{"col":2,"sub":2,"lvl":"c3"},{"col":2,"sub":3,"lvl":"c4"},{"col":2,"sub":4,"lvl":"c4"},{"col":2,"sub":5,"lvl":"c5"},
{"col":3,"sub":0,"lvl":"c5"},{"col":3,"sub":1,"lvl":"c6"},{"col":3,"sub":2,"lvl":"y"},{"col":3,"sub":3,"lvl":"cy"},{"col":3,"sub":4,"lvl":"b2"},{"col":3,"sub":5,"lvl":"b2"},
{"col":5,"sub":0,"lvl":"b6"},{"col":5,"sub":1,"lvl":"b7"},{"col":5,"sub":2,"lvl":"b8"},{"col":5,"sub":3,"lvl":"b9"},{"col":5,"sub":4,"lvl":"b9"},{"col":5,"sub":5,"lvl":"b9"},
{"col":12,"sub":0,"lvl":"b6"},{"col":12,"sub":1,"lvl":"b5"},{"col":12,"sub":2,"lvl":"b5"},{"col":12,"sub":3,"lvl":"b4"},{"col":12,"sub":4,"lvl":"b3"},{"col":12,"sub":5,"lvl":"b3"},
{"col":14,"sub":0,"lvl":"teal"},{"col":14,"sub":1,"lvl":"c6"},{"col":14,"sub":2,"lvl":"c6"},{"col":14,"sub":3,"lvl":"c5"},{"col":14,"sub":4,"lvl":"c5"},{"col":14,"sub":5,"lvl":"c4"},
{"col":26,"sub":0,"lvl":"c3"},{"col":26,"sub":1,"lvl":"c3"},{"col":26,"sub":2,"lvl":"c3"},{"col":26,"sub":3,"lvl":"c4"},{"col":26,"sub":4,"lvl":"c4"},{"col":26,"sub":5,"lvl":"c5"},
{"col":27,"sub":0,"lvl":"c6"},{"col":27,"sub":1,"lvl":"c6"},{"col":27,"sub":2,"lvl":"y"},{"col":27,"sub":3,"lvl":"cy"},{"col":27,"sub":4,"lvl":"b1"},{"col":27,"sub":5,"lvl":"b2"},
{"col":29,"sub":0,"lvl":"b6"},{"col":29,"sub":1,"lvl":"b7"},{"col":29,"sub":2,"lvl":"b8"},{"col":29,"sub":3,"lvl":"b9"},{"col":29,"sub":4,"lvl":"b9"},{"col":29,"sub":5,"lvl":"b9"},
{"col":36,"sub":0,"lvl":"b6"},{"col":36,"sub":1,"lvl":"b5"},{"col":36,"sub":2,"lvl":"b5"},{"col":36,"sub":3,"lvl":"b4"},{"col":36,"sub":4,"lvl":"b3"},{"col":36,"sub":5,"lvl":"b3"},
{"col":38,"sub":0,"lvl":"teal"},{"col":38,"sub":1,"lvl":"c6"},{"col":38,"sub":2,"lvl":"c6"},{"col":38,"sub":3,"lvl":"c5"},{"col":38,"sub":4,"lvl":"c5"},{"col":38,"sub":5,"lvl":"c4"},
{"col":50,"sub":0,"lvl":"c3"},{"col":50,"sub":1,"lvl":"c3"},{"col":50,"sub":2,"lvl":"c3"},{"col":50,"sub":3,"lvl":"c4"},{"col":50,"sub":4,"lvl":"c4"},{"col":50,"sub":5,"lvl":"c5"},
{"col":51,"sub":0,"lvl":"c5"},{"col":51,"sub":1,"lvl":"c6"},{"col":51,"sub":2,"lvl":"y"},{"col":51,"sub":3,"lvl":"cy"},{"col":51,"sub":4,"lvl":"b1"},{"col":51,"sub":5,"lvl":"b2"},
{"col":53,"sub":0,"lvl":"b6"},{"col":53,"sub":1,"lvl":"b7"},{"col":53,"sub":2,"lvl":"b8"},{"col":53,"sub":3,"lvl":"b9"},{"col":53,"sub":4,"lvl":"b9"},{"col":53,"sub":5,"lvl":"b9"},
{"col":60,"sub":0,"lvl":"b6"},{"col":60,"sub":1,"lvl":"b5"},{"col":60,"sub":2,"lvl":"b5"},{"col":60,"sub":3,"lvl":"b4"},{"col":60,"sub":4,"lvl":"b2"},{"col":60,"sub":5,"lvl":"b2"},
{"col":62,"sub":0,"lvl":"teal"},{"col":62,"sub":1,"lvl":"c6"},{"col":62,"sub":2,"lvl":"c6"},{"col":62,"sub":3,"lvl":"c5"},{"col":62,"sub":4,"lvl":"c4"},{"col":62,"sub":5,"lvl":"c4"},
{"col":74,"sub":0,"lvl":"c3"},{"col":74,"sub":1,"lvl":"c3"},{"col":74,"sub":2,"lvl":"c3"},{"col":74,"sub":3,"lvl":"c4"},{"col":74,"sub":4,"lvl":"c4"},{"col":74,"sub":5,"lvl":"c5"},
{"col":75,"sub":0,"lvl":"c6"},{"col":75,"sub":1,"lvl":"c6"},{"col":75,"sub":2,"lvl":"y"},{"col":75,"sub":3,"lvl":"cy"},{"col":75,"sub":4,"lvl":"b1"},{"col":75,"sub":5,"lvl":"b2"},
{"col":77,"sub":0,"lvl":"b6"},{"col":77,"sub":1,"lvl":"b7"},{"col":77,"sub":2,"lvl":"b8"},{"col":77,"sub":3,"lvl":"b9"},{"col":77,"sub":4,"lvl":"b9"},{"col":77,"sub":5,"lvl":"b9"}
],
"units":[
{"col":0,"txt":"7","lvl":"green"},{"col":1,"txt":"8","lvl":"green"},{"col":2,"txt":"9","lvl":"green"},{"col":3,"txt":"0","lvl":"green"},{"col":4,"txt":"1","lvl":"green"},{"col":5,"txt":"2","lvl":"green"},{"col":6,"txt":"3","lvl":"green"},
{"col":7,"txt":"0","lvl":"yl"},{"col":8,"txt":"1","lvl":"yl"},{"col":9,"txt":"2","lvl":"yl"},{"col":10,"txt":"3","lvl":"yl"},{"col":11,"txt":"4","lvl":"yl"},{"col":12,"txt":"5","lvl":"yl"},{"col":13,"txt":"6","lvl":"yl"},{"col":14,"txt":"7","lvl":"yl"},{"col":15,"txt":"8","lvl":"yl"},{"col":16,"txt":"9","lvl":"yl"},{"col":17,"txt":"0","lvl":"yl"},{"col":18,"txt":"1","lvl":"yl"},{"col":19,"txt":"2","lvl":"yl"},{"col":20,"txt":"3","lvl":"yl"},{"col":21,"txt":"4","lvl":"yl"},{"col":22,"txt":"5","lvl":"yl"},{"col":23,"txt":"6","lvl":"yl"},{"col":24,"txt":"7","lvl":"yl"},{"col":25,"txt":"8","lvl":"yl"},{"col":26,"txt":"9","lvl":"yl"},{"col":27,"txt":"0","lvl":"yl"},{"col":28,"txt":"1","lvl":"yl"},{"col":29,"txt":"2","lvl":"yl"},{"col":30,"txt":"3","lvl":"yl"},
{"col":31,"txt":"0","lvl":"salmon"},{"col":32,"txt":"1","lvl":"salmon"},{"col":33,"txt":"2","lvl":"salmon"},{"col":34,"txt":"3","lvl":"salmon"},{"col":35,"txt":"4","lvl":"salmon"},{"col":36,"txt":"5","lvl":"salmon"},{"col":37,"txt":"6","lvl":"salmon"},{"col":38,"txt":"7","lvl":"salmon"},{"col":39,"txt":"8","lvl":"salmon"},{"col":40,"txt":"9","lvl":"salmon"},{"col":41,"txt":"0","lvl":"salmon"},{"col":42,"txt":"1","lvl":"salmon"},{"col":43,"txt":"2","lvl":"salmon"},{"col":44,"txt":"3","lvl":"salmon"},{"col":45,"txt":"4","lvl":"salmon"},{"col":46,"txt":"5","lvl":"salmon"},{"col":47,"txt":"6","lvl":"salmon"},{"col":48,"txt":"7","lvl":"salmon"},{"col":49,"txt":"8","lvl":"salmon"},{"col":50,"txt":"9","lvl":"salmon"},{"col":51,"txt":"0","lvl":"salmon"},{"col":52,"txt":"1","lvl":"salmon"},{"col":53,"txt":"2","lvl":"salmon"},{"col":54,"txt":"3","lvl":"salmon"},
{"col":55,"txt":"0","lvl":"mag"},{"col":56,"txt":"1","lvl":"mag"},{"col":57,"txt":"2","lvl":"mag"},{"col":58,"txt":"3","lvl":"mag"},{"col":59,"txt":"4","lvl":"mag"},{"col":60,"txt":"5","lvl":"mag"},{"col":61,"txt":"6","lvl":"mag"},{"col":62,"txt":"7","lvl":"mag"},{"col":63,"txt":"8","lvl":"mag"},{"col":64,"txt":"9","lvl":"mag"},{"col":65,"txt":"0","lvl":"mag"},{"col":66,"txt":"1","lvl":"mag"},{"col":67,"txt":"2","lvl":"mag"},{"col":68,"txt":"3","lvl":"mag"},{"col":69,"txt":"4","lvl":"mag"},{"col":70,"txt":"5","lvl":"mag"},{"col":71,"txt":"6","lvl":"mag"},{"col":72,"txt":"7","lvl":"mag"},{"col":73,"txt":"8","lvl":"mag"},{"col":74,"txt":"9","lvl":"mag"},{"col":75,"txt":"0","lvl":"mag"},{"col":76,"txt":"1","lvl":"mag"},{"col":77,"txt":"2","lvl":"mag"},{"col":78,"txt":"3","lvl":"mag"},
{"col":79,"txt":"0","lvl":"blue"},{"col":80,"txt":"1","lvl":"blue"},{"col":81,"txt":"2","lvl":"blue"}
],
"tens":[
{"col":0,"txt":"1","lvl":"green"},{"col":1,"txt":"1","lvl":"green"},{"col":2,"txt":"1","lvl":"green"},{"col":3,"txt":"2","lvl":"green"},{"col":4,"txt":"2","lvl":"green"},{"col":5,"txt":"2","lvl":"green"},{"col":6,"txt":"2","lvl":"green"},
{"col":17,"txt":"1","lvl":"yl"},{"col":18,"txt":"1","lvl":"yl"},{"col":19,"txt":"1","lvl":"yl"},{"col":20,"txt":"1","lvl":"yl"},{"col":21,"txt":"1","lvl":"yl"},{"col":22,"txt":"1","lvl":"yl"},{"col":23,"txt":"1","lvl":"yl"},{"col":24,"txt":"1","lvl":"yl"},{"col":25,"txt":"1","lvl":"yl"},{"col":26,"txt":"1","lvl":"yl"},{"col":27,"txt":"2","lvl":"yl"},{"col":28,"txt":"2","lvl":"yl"},{"col":29,"txt":"2","lvl":"yl"},{"col":30,"txt":"2","lvl":"yl"},
{"col":41,"txt":"1","lvl":"salmon"},{"col":42,"txt":"1","lvl":"salmon"},{"col":43,"txt":"1","lvl":"salmon"},{"col":44,"txt":"1","lvl":"salmon"},{"col":45,"txt":"1","lvl":"salmon"},{"col":46,"txt":"1","lvl":"salmon"},{"col":47,"txt":"1","lvl":"salmon"},{"col":48,"txt":"1","lvl":"salmon"},{"col":49,"txt":"1","lvl":"salmon"},{"col":50,"txt":"1","lvl":"salmon"},{"col":51,"txt":"2","lvl":"salmon"},{"col":52,"txt":"2","lvl":"salmon"},{"col":53,"txt":"2","lvl":"salmon"},{"col":54,"txt":"2","lvl":"salmon"},
{"col":65,"txt":"1","lvl":"mag"},{"col":66,"txt":"1","lvl":"mag"},{"col":67,"txt":"1","lvl":"mag"},{"col":68,"txt":"1","lvl":"mag"},{"col":69,"txt":"1","lvl":"mag"},{"col":70,"txt":"1","lvl":"mag"},{"col":71,"txt":"1","lvl":"mag"},{"col":72,"txt":"1","lvl":"mag"},{"col":73,"txt":"1","lvl":"mag"},{"col":74,"txt":"1","lvl":"mag"},{"col":75,"txt":"2","lvl":"mag"},{"col":76,"txt":"2","lvl":"mag"},{"col":77,"txt":"2","lvl":"mag"},{"col":78,"txt":"2","lvl":"mag"}
]},
"encoding":{
"x":{"field":"col","type":"ordinal","axis":null,"scale":{"type":"band","range":[7,1281],"paddingInner":0.142857,"paddingOuter":0.0714285,"domain":[-9,-8,-7,-6,-5,-4,-3,-2,-1,0,1,2,3,4,5,6,7,8,9,10,11,12,13,14,15,16,17,18,19,20,21,22,23,24,25,26,27,28,29,30,31,32,33,34,35,36,37,38,39,40,41,42,43,44,45,46,47,48,49,50,51,52,53,54,55,56,57,58,59,60,61,62,63,64,65,66,67,68,69,70,71,72,73,74,75,76,77,78,79,80,81]}},
"y":{"field":"row","type":"nominal","axis":null,"scale":{"type":"band","range":[11,411],"paddingInner":0.25,"paddingOuter":0.125,"domain":["title","date","tens","units","cloud","ecmwf","transp","seeing","dark","g1","g2","smoke","wind","humid","temp","g3","ext","date2","local2","hour2","cloud2","dark2","g4","g5","footer"]}},
"color":{"field":"lvl","type":"nominal","legend":null,"scale":{
"domain":["s0","s1","s2","s3","s4","s5","s6","s7","s8","s9","s10","s11","s12","hd","hr","ho","hn","ha","hy","hg","hm","td","tr","to","ta","w","c1","c2","c3","c4","c5","c6","y","teal","cy","b1","b2","b3","b4","b5","b6","b7","b8","b9","gray","green","yl","olive","salmon","mag","blue","red","cyan","sky","grd","black"],
"range":["#003f7f","#134f8f","#2c6cad","#4a8acd","#60a0e4","#78b8fa","#a0e2e2","#b4f4f4","#94d4d4","#7ebcbc","#c0c0c0","#e8e8e8","#ffffff","#b80000","#e00000","#ff3800","#ff8800","#ffc800","#e8ff14","#98ff68","#58ffb0","#e00000","#ff2000","#ff6000","#ffa500","#ffffff","#fff8ee","#fff0dc","#ffe8c8","#ffdca8","#ffc880","#ffb040","#ff9c20","#40e0a0","#00e0ff","#00a0ff","#0078f0","#0066e0","#0044d0","#0010b8","#0000a8","#000090","#000070","#000058","#c0c0c0","#66ff66","#ffff00","#c8c800","#ff7070","#ff00ff","#7070ff","#ff0000","#00cccc","#0066ee","#566b00","#000000"]}}},
"layer":[
{"data":{"name":"cells"},"mark":{"type":"rect"}},
{"data":{"name":"cells"},"transform":[{"filter":"datum.link===1"}],"mark":{"type":"rect","width":2,"height":6,"xOffset":7}},
{"data":{"name":"strips"},"mark":{"type":"rect"},"encoding":{"y":{"datum":"dark"},"xOffset":{"field":"sub","type":"ordinal","scale":{"paddingInner":0,"paddingOuter":0}}}},
{"data":{"values":[{"row":"dark2","col":0,"sub":0,"lvl":"b8"},{"row":"dark2","col":0,"sub":1,"lvl":"b7"},{"row":"dark2","col":0,"sub":2,"lvl":"b4"},{"row":"dark2","col":0,"sub":3,"lvl":"b2"},{"row":"dark2","col":0,"sub":4,"lvl":"cy"},{"row":"dark2","col":0,"sub":5,"lvl":"c4"}]},"mark":{"type":"rect","yOffset":4},"encoding":{"xOffset":{"field":"sub","type":"ordinal","scale":{"paddingInner":0,"paddingOuter":0}}}},
{"data":{"values":[{"row":"cloud","end":"temp","col":7,"lvl":"red"},{"row":"cloud","end":"temp","col":31,"lvl":"red"},{"row":"cloud","end":"temp","col":55,"lvl":"red"},{"row":"cloud","end":"temp","col":79,"lvl":"red"}]},"mark":{"type":"rule","strokeWidth":2.6,"opacity":1,"xOffset":-6,"yOffset":-6,"y2Offset":6},"encoding":{"y2":{"field":"end"}}},
{"data":{"values":[{"row":"cloud","end":"dark","col":-9,"lvl":"sky"},{"row":"smoke","end":"temp","col":-9,"lvl":"grd"}]},"mark":{"type":"rule","strokeWidth":12,"xOffset":-8,"yOffset":-6,"y2Offset":6},"encoding":{"y2":{"field":"end"}}},
{"data":{"values":[{"row":"cloud2","end":"dark2","col":-9,"lvl":"sky"}]},"mark":{"type":"rule","strokeWidth":12,"xOffset":-8,"yOffset":-2,"y2Offset":12},"encoding":{"y2":{"field":"end"}}},
{"data":{"values":[{"row":"transp","col":-9,"txt":"--- Sky ---","lvl":"yl"}]},"mark":{"type":"text","angle":270,"align":"center","fontSize":10,"xOffset":-8},"encoding":{"text":{"field":"txt"}}},
{"data":{"values":[{"row":"wind","col":-9,"txt":"- Ground -","lvl":"w"}]},"mark":{"type":"text","angle":270,"align":"center","fontSize":10,"xOffset":-8,"yOffset":7},"encoding":{"text":{"field":"txt"}}},
{"data":{"values":[{"row":"dark2","col":-9,"txt":"Sky","lvl":"yl"}]},"mark":{"type":"text","angle":270,"align":"center","fontSize":10,"xOffset":-8,"yOffset":-4},"encoding":{"text":{"field":"txt"}}},
{"data":{"values":[{"row":"title","col":25,"txt":"Lexington","lvl":"yl"}]},"mark":{"type":"text","fontSize":20,"fontWeight":"bold","dx":2,"dy":-7},"encoding":{"text":{"field":"txt"}}},
{"data":{"values":[{"row":"title","col":34,"txt":"Clear Sky Chart","lvl":"cyan"}]},"mark":{"type":"text","fontSize":20,"fontWeight":"bold","dx":-3,"dy":-7},"encoding":{"text":{"field":"txt"}}},
{"data":{"values":[{"row":"date","col":-9,"txt":"2026-08-05","lvl":"green"}]},"mark":{"type":"text","dx":-12},"encoding":{"text":{"field":"txt"}}},
{"data":{"values":[{"row":"tens","col":-9,"txt":"Local Time","lvl":"olive"}]},"mark":{"type":"text","dx":-12,"dy":-1},"encoding":{"text":{"field":"txt"}}},
{"data":{"values":[{"row":"date","col":0,"txt":"Wed","lvl":"green"},{"row":"date","col":17,"txt":"Thursday, 6","lvl":"yl"},{"row":"date","col":41,"txt":"Friday, 7","lvl":"salmon"},{"row":"date","col":65,"txt":"Saturday, 8","lvl":"mag"},{"row":"date","col":79,"txt":"Sun","lvl":"blue"}]},"mark":{"type":"text","dx":-5},"encoding":{"text":{"field":"txt"}}},
{"data":{"name":"tens"},"mark":{"type":"text","align":"center","dy":-1},"encoding":{"y":{"datum":"tens"},"text":{"field":"txt"}}},
{"data":{"name":"units"},"mark":{"type":"text","align":"center","dy":-2.5},"encoding":{"y":{"datum":"units"},"text":{"field":"txt"}}},
{"data":{"values":[{"row":"units","col":-9,"txt":"(GMT -4+0)","lvl":"olive"}]},"mark":{"type":"text","fontSize":8,"fontWeight":"bold","dx":-11,"dy":-4},"encoding":{"text":{"field":"txt"}}},
{"data":{"values":[{"row":"cloud","col":-9,"txt":"Cloud Cover:","lvl":"w"},{"row":"ecmwf","col":-9,"txt":"ECMWF Cloud:","lvl":"w"},{"row":"transp","col":-9,"txt":"Transparency:","lvl":"w"},{"row":"seeing","col":-9,"txt":"Seeing:","lvl":"w"},{"row":"dark","col":-9,"txt":"Darkness:","lvl":"gray"},{"row":"smoke","col":-9,"txt":"Smoke:","lvl":"w"},{"row":"wind","col":-9,"txt":"Wind:","lvl":"w"},{"row":"humid","col":-9,"txt":"Humidity:","lvl":"w"},{"row":"temp","col":-9,"txt":"Temperature:","lvl":"w"}]},"mark":{"type":"text","dy":-3},"encoding":{"text":{"field":"txt"}}},
{"data":{"values":[{"row":"ext","col":-9,"txt":"EXTENDED Forecast. Each block is 3 hours. (A sponsored feature)","lvl":"red"}]},"mark":{"type":"text","dx":-14,"dy":-0.5},"encoding":{"text":{"field":"txt"}}},
{"data":{"values":[{"row":"date2","col":-9,"txt":"2026-08-09","lvl":"blue"}]},"mark":{"type":"text","dx":-12,"dy":2.5},"encoding":{"text":{"field":"txt"}}},
{"data":{"values":[{"row":"local2","col":-9,"txt":"Local Time","lvl":"olive"}]},"mark":{"type":"text","dx":-12,"dy":1.5},"encoding":{"text":{"field":"txt"}}},
{"data":{"values":[{"row":"hour2","col":-9,"txt":"(GMT -4+0)","lvl":"olive"}]},"mark":{"type":"text","fontSize":8,"fontWeight":"bold","dx":-11,"dy":-1},"encoding":{"text":{"field":"txt"}}},
{"data":{"values":[{"row":"hour2","col":0,"txt":"5","lvl":"blue"}]},"mark":{"type":"text","align":"center","dy":0.5},"encoding":{"text":{"field":"txt"}}},
{"data":{"values":[{"row":"cloud2","col":-9,"txt":"Cloud Cover:","lvl":"w"}]},"mark":{"type":"text","dy":0.5},"encoding":{"text":{"field":"txt"}}},
{"data":{"values":[{"row":"dark2","col":-9,"txt":"Darkness:","lvl":"gray"}]},"mark":{"type":"text","dy":0.5},"encoding":{"text":{"field":"txt"}}},
{"data":{"values":[{"row":"footer","col":14,"txt":"© 2026 Attilla Danko\u00a0 forecast: A.Rahill\u00a0 data:","lvl":"w"}]},"mark":{"type":"text","dx":6,"dy":-4.5},"encoding":{"text":{"field":"txt"}}},
{"data":{"values":[{"row":"footer","col":46,"lvl":"w"}]},"mark":{"type":"rect","width":166,"height":15,"xOffset":74,"yOffset":-2.5}},
{"data":{"values":[{"row":"footer","col":46,"lvl":"red"}]},"mark":{"type":"rect","width":27,"height":15,"xOffset":4.5,"yOffset":-2.5}},
{"data":{"values":[{"row":"footer","col":46,"lvl":"w"}]},"mark":{"type":"rect","width":11,"height":15,"xOffset":4.5,"yOffset":-2.5}},
{"data":{"values":[{"row":"footer","col":46,"lvl":"red"}]},"mark":{"type":"point","filled":true,"opacity":1,"size":70,"xOffset":4.5,"yOffset":-3,"shape":"M0,-1L0.2,-0.6L0.5,-0.7L0.4,-0.2L0.9,-0.3L0.7,0.1L1,0.3L0.5,0.6L0.1,0.5L0.1,1L-0.1,1L-0.1,0.5L-0.5,0.6L-1,0.3L-0.7,0.1L-0.9,-0.3L-0.4,-0.2L-0.5,-0.7L-0.2,-0.6Z"}},
{"data":{"values":[{"row":"footer","col":48,"txt":"Environment","lvl":"black"}]},"mark":{"type":"text","font":"Liberation Sans","fontSize":8,"dx":5,"dy":-6.5},"encoding":{"text":{"field":"txt"}}},
{"data":{"values":[{"row":"footer","col":48,"txt":"Canada","lvl":"black"}]},"mark":{"type":"text","font":"Liberation Sans","fontSize":8,"dx":5,"dy":1.5},"encoding":{"text":{"field":"txt"}}},
{"data":{"values":[{"row":"footer","col":53,"txt":"Environnement","lvl":"black"}]},"mark":{"type":"text","font":"Liberation Sans","fontSize":8,"dy":-6.5},"encoding":{"text":{"field":"txt"}}},
{"data":{"values":[{"row":"footer","col":53,"txt":"Canada","lvl":"black"}]},"mark":{"type":"text","font":"Liberation Sans","fontSize":8,"dy":1.5},"encoding":{"text":{"field":"txt"}}}
]}
